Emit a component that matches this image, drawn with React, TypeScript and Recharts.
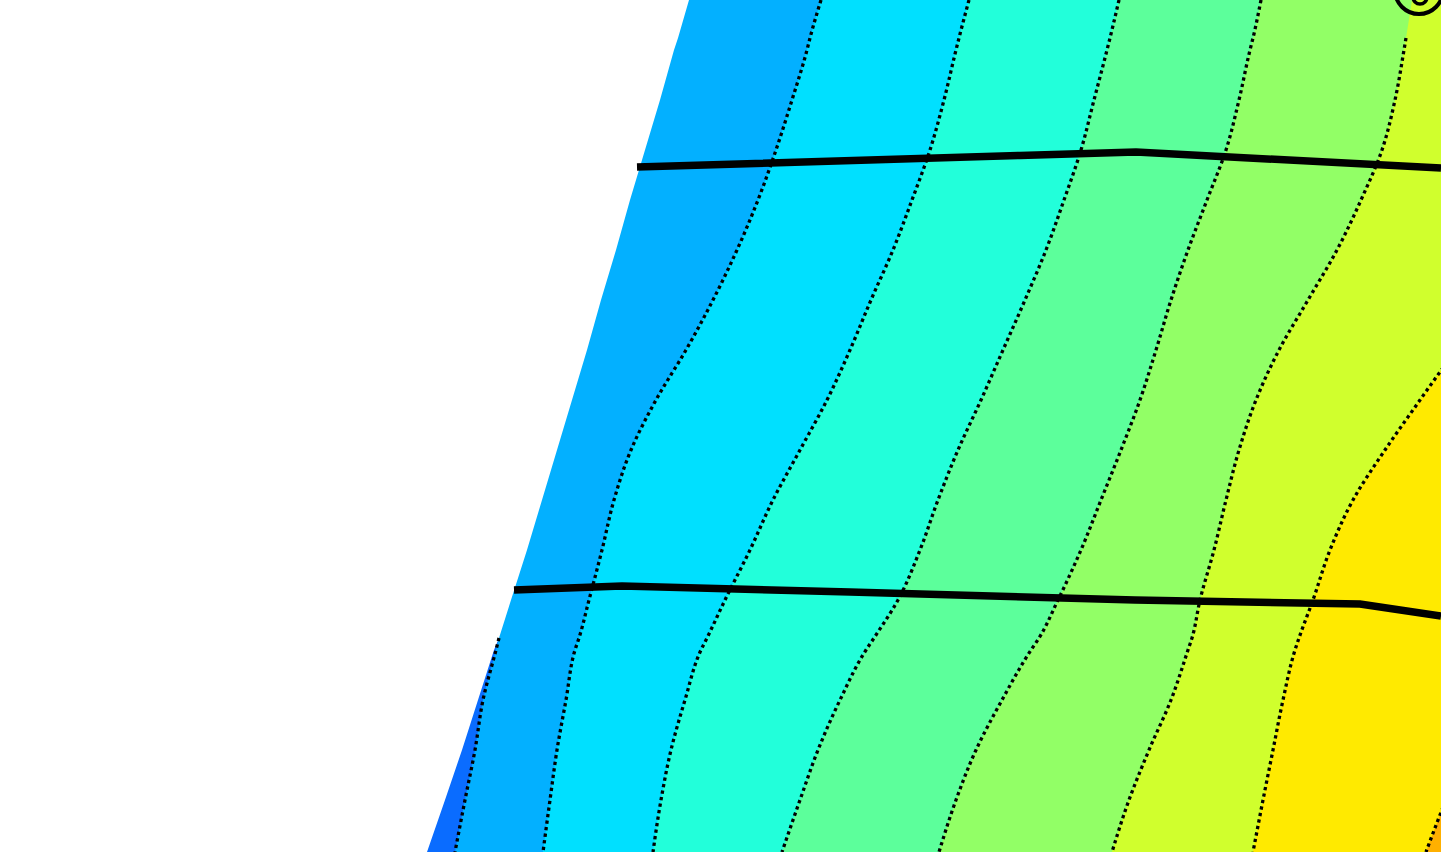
import {
  ComposedChart,
  Area,
  Line,
  XAxis,
  YAxis,
  CartesianGrid,
  ReferenceDot,
} from "recharts";

// rows of the field (vertical position), top to bottom
const rows = [0, 38, 50, 100, 150, 200, 250, 300, 350, 400, 450, 500, 550, 600, 638, 650, 700, 750, 800, 852];

// left edge of the data (white beyond it)
const edgeX = [689, 678, 674, 660, 645, 630, 616, 601, 587, 572, 557, 542, 527, 511, 499, 494, 478, 462, 445, 427];

// contour levels, horizontal position at each row (values past 1441 run off the frame)
const level0 = [null, null, null, null, null, null, null, null, null, null, null, null, null, null, 499, 496, 483, 475, 465, 455];
const level1 = [821, 810, 807, 792, 776, 758, 737, 713, 686, 656, 631, 614, 602, 589, 579, 575, 566, 557, 550, 543];
const level2 = [969, 959, 956, 944, 930, 912, 893, 871, 850, 827, 800, 773, 750, 725, 707, 701, 685, 671, 661, 653];
const level3 = [1119, 1110, 1107, 1094, 1081, 1064, 1046, 1025, 1003, 981, 958, 938, 920, 898, 874, 866, 840, 818, 800, 782];
const level4 = [1261, 1253, 1250, 1239, 1226, 1207, 1188, 1171, 1156, 1140, 1121, 1101, 1081, 1058, 1039, 1031, 1002, 976, 956, 939];
const level5 = [1412, 1406, 1404, 1395, 1382, 1361, 1337, 1308, 1279, 1256, 1239, 1226, 1214, 1200, 1192, 1188, 1171, 1149, 1129, 1112];
const level6 = [1700, 1670, 1660, 1620, 1580, 1545, 1512, 1485, 1455, 1420, 1385, 1353, 1330, 1313, 1299, 1295, 1283, 1273, 1263, 1253];
const level7 = [2010, 1980, 1970, 1930, 1890, 1850, 1810, 1770, 1730, 1690, 1650, 1610, 1575, 1545, 1525, 1518, 1492, 1468, 1446, 1426];

// band colours, from the lowest level up
const bandColors = ["#0A6CFF", "#03B0FF", "#00E0FF", "#22FFDA", "#5CFF9B", "#92FF66", "#D0FF2D", "#FFEA00", "#FFB000"];

// the two thick ridge lines
const upperRidgeX = [637, 1020, 1136, 1441];
const upperRidgeY = [167, 155.5, 152, 168];
const lowerRidgeX = [514, 622, 850, 1135, 1360, 1441];
const lowerRidgeY = [590, 586, 592, 600, 604, 616];

// label glyph clipped at the top edge
const labelMarkX = [1419, 1420];
const labelMarkY = [-10, -3];
const labelMarkR = [24, 7];

const levels = [level0, level1, level2, level3, level4, level5, level6, level7];

const data = rows.map((y, i) => {
  const row: Record<string, number | null> = { y, edge: edgeX[i] };
  levels.forEach((lv, k) => (row[`c${k}`] = lv[i]));
  return row;
});

const ridge = (xs: number[], ys: number[]) => xs.map((x, i) => ({ x, y: ys[i] }));

const W = 1441;
const H = 852;

const dotted = {
  stroke: "#000",
  strokeWidth: 3.3,
  strokeDasharray: "3.3 3.3",
  dot: false,
  activeDot: false,
  isAnimationActive: false,
} as const;

export default function App() {
  return (
    <div style={{ position: "absolute", left: 0, top: 0, width: W, height: H, background: "#fff" }}>
      <ComposedChart
        width={W}
        height={H}
        data={data}
        layout="vertical"
        margin={{ top: 0, right: 0, bottom: 0, left: 0 }}
      >
        <CartesianGrid horizontal={false} vertical={false} fill={bandColors[8]} />
        <XAxis type="number" domain={[0, W]} allowDataOverflow hide />
        <YAxis type="number" dataKey="y" domain={[0, H]} allowDataOverflow hide />

        {/* filled bands, painted from the highest level down */}
        {[7, 6, 5, 4, 3, 2, 1, 0].map((k) => (
          <Area
            key={`band${k}`}
            type="monotone"
            dataKey={`c${k}`}
            fill={bandColors[k]}
            fillOpacity={1}
            stroke="none"
            dot={false}
            activeDot={false}
            isAnimationActive={false}
          />
        ))}
        <Area
          type="linear"
          dataKey="edge"
          fill="#fff"
          fillOpacity={1}
          stroke="none"
          dot={false}
          activeDot={false}
          isAnimationActive={false}
        />

        {/* dotted contour lines */}
        {[0, 1, 2, 3, 4, 6, 7].map((k) => (
          <Line key={`line${k}`} type="monotone" dataKey={`c${k}`} {...dotted} />
        ))}
        {/* level 5 is broken at the top where its label sits */}
        <Line data={data.filter((d) => (d.y as number) >= 38)} type="monotone" dataKey="c5" {...dotted} />

        <Line
          data={ridge(upperRidgeX, upperRidgeY)}
          dataKey="x"
          type="linear"
          stroke="#000"
          strokeWidth={7.5}
          dot={false}
          activeDot={false}
          isAnimationActive={false}
        />
        <Line
          data={ridge(lowerRidgeX, lowerRidgeY)}
          dataKey="x"
          type="linear"
          stroke="#000"
          strokeWidth={7.5}
          dot={false}
          activeDot={false}
          isAnimationActive={false}
        />

        {labelMarkX.map((x, i) => (
          <ReferenceDot
            key={`mark${i}`}
            x={x}
            y={labelMarkY[i]}
            r={labelMarkR[i]}
            fill="none"
            stroke="#000"
            strokeWidth={i === 0 ? 4 : 3.5}
            ifOverflow="hidden"
          />
        ))}
      </ComposedChart>
    </div>
  );
}
